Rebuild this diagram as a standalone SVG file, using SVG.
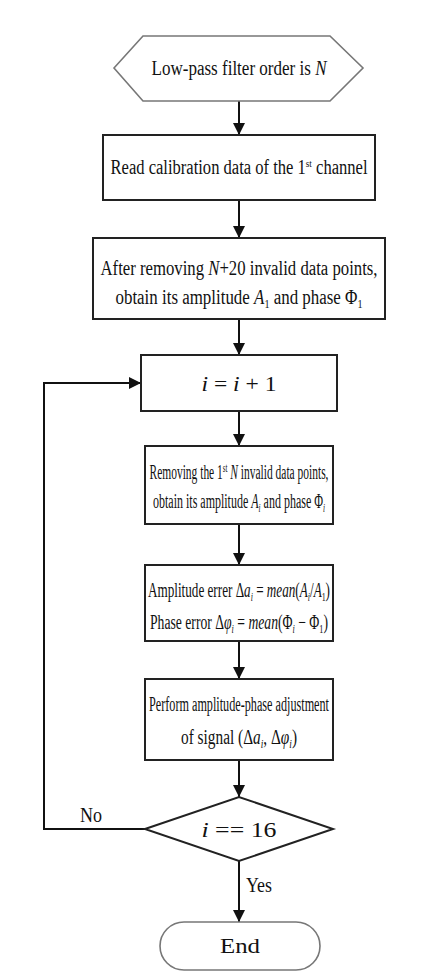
<svg xmlns="http://www.w3.org/2000/svg" width="440" height="980" viewBox="0 0 440 980">
<defs>
<style>
.t{font-family:"Liberation Serif","Times New Roman",serif;font-size:20px;fill:#111}
.m{font-family:"Liberation Serif","Times New Roman",serif;font-size:22px;fill:#111}
.i{font-style:italic}
.box{fill:#fff;stroke:#222;stroke-width:2}
.soft{fill:#fff;stroke:#777;stroke-width:1.6}
.c{stroke:#111;stroke-width:2;fill:none}
</style>
<marker id="a" viewBox="0 0 12 12" refX="12" refY="6" markerWidth="12" markerHeight="12" orient="auto" markerUnits="userSpaceOnUse"><path d="M0,0 L12,6 L0,12 z" fill="#111"/></marker>
</defs>
<rect width="440" height="980" fill="#fff"/>
<g id="connectors">
<line class="c" x1="239" y1="101" x2="239" y2="135" marker-end="url(#a)"/>
<line class="c" x1="239" y1="200" x2="239" y2="238" marker-end="url(#a)"/>
<line class="c" x1="239" y1="319" x2="239" y2="355" marker-end="url(#a)"/>
<line class="c" x1="239" y1="411" x2="239" y2="446" marker-end="url(#a)"/>
<line class="c" x1="239" y1="524" x2="239" y2="565" marker-end="url(#a)"/>
<line class="c" x1="239" y1="641" x2="239" y2="679" marker-end="url(#a)"/>
<line class="c" x1="239" y1="760" x2="239" y2="797" marker-end="url(#a)"/>
<line class="c" x1="239" y1="861" x2="239" y2="922" marker-end="url(#a)"/>
<polyline class="c" points="145,829 44,829 44,383 141,383" marker-end="url(#a)"/>
<text class="t" x="80" y="822" textLength="22" lengthAdjust="spacingAndGlyphs">No</text>
<text class="t" x="246" y="892" textLength="26" lengthAdjust="spacingAndGlyphs">Yes</text>
</g>
<g id="start">
<polygon class="soft" points="114,68 143,36 330,36 363,68 330,101 143,101"/>
<text class="t" x="239" y="75" text-anchor="middle" textLength="175" lengthAdjust="spacingAndGlyphs">Low-pass filter order is <tspan class="i">N</tspan></text>
</g>
<g id="read">
<rect class="box" x="103" y="135" width="272" height="65"/>
<text class="t" x="239" y="174" text-anchor="middle" textLength="257" lengthAdjust="spacingAndGlyphs">Read calibration data of the 1<tspan font-size="11" dy="-7">st</tspan><tspan dy="7"> channel</tspan></text>
</g>
<g id="remove1">
<rect class="box" x="93" y="238" width="292" height="81"/>
<text class="t" x="239" y="275" text-anchor="middle" textLength="277" lengthAdjust="spacingAndGlyphs">After removing <tspan class="i">N</tspan>+20 invalid data points,</text>
<text class="t" x="239" y="304" text-anchor="middle" textLength="247" lengthAdjust="spacingAndGlyphs">obtain its amplitude <tspan class="i">A</tspan><tspan font-size="12" dy="4">1</tspan><tspan dy="-4"> and phase Φ</tspan><tspan font-size="12" dy="4">1</tspan></text>
</g>
<g id="inc">
<rect class="box" x="141" y="355" width="196" height="56"/>
<text class="m" x="239" y="391" text-anchor="middle" textLength="75" lengthAdjust="spacingAndGlyphs"><tspan class="i">i</tspan> = <tspan class="i">i</tspan> + 1</text>
</g>
<g id="remove">
<rect class="box" x="145" y="446" width="188" height="78"/>
<text class="t" x="239" y="479" text-anchor="middle" textLength="179" lengthAdjust="spacingAndGlyphs">Removing the 1<tspan font-size="12" dy="-7">st</tspan><tspan dy="7"> </tspan><tspan class="i">N</tspan> invalid data points,</text>
<text class="t" x="239" y="508" text-anchor="middle" textLength="172" lengthAdjust="spacingAndGlyphs">obtain its amplitude <tspan class="i">A</tspan><tspan class="i" font-size="12" dy="4">i</tspan><tspan dy="-4"> and phase Φ</tspan><tspan class="i" font-size="12" dy="4">i</tspan></text>
</g>
<g id="error">
<rect class="box" x="145" y="565" width="188" height="76"/>
<text class="t" x="239" y="597" text-anchor="middle" textLength="182" lengthAdjust="spacingAndGlyphs">Amplitude errer Δ<tspan class="i">a</tspan><tspan class="i" font-size="12" dy="4">i</tspan><tspan dy="-4"> = </tspan><tspan class="i">mean</tspan>(<tspan class="i">A</tspan><tspan class="i" font-size="12" dy="4">i</tspan><tspan dy="-4">/</tspan><tspan class="i">A</tspan><tspan font-size="12" dy="4">1</tspan><tspan dy="-4">)</tspan></text>
<text class="t" x="239" y="629" text-anchor="middle" textLength="178" lengthAdjust="spacingAndGlyphs">Phase error Δ<tspan class="i">φ</tspan><tspan class="i" font-size="12" dy="4">i</tspan><tspan dy="-4"> = </tspan><tspan class="i">mean</tspan>(Φ<tspan class="i" font-size="12" dy="4">i</tspan><tspan dy="-4"> − Φ</tspan><tspan font-size="12" dy="4">1</tspan><tspan dy="-4">)</tspan></text>
</g>
<g id="adjust">
<rect class="box" x="145" y="679" width="188" height="81"/>
<text class="t" x="239" y="711" text-anchor="middle" textLength="180" lengthAdjust="spacingAndGlyphs">Perform amplitude-phase adjustment</text>
<text class="t" x="239" y="744" text-anchor="middle" textLength="116" lengthAdjust="spacingAndGlyphs">of signal (Δ<tspan class="i">a</tspan><tspan class="i" font-size="12" dy="4">i</tspan><tspan dy="-4">, Δ</tspan><tspan class="i">φ</tspan><tspan class="i" font-size="12" dy="4">i</tspan><tspan dy="-4">)</tspan></text>
</g>
<g id="decision">
<polygon class="box" points="145,829 239,797 333,829 239,861"/>
<text class="m" x="239" y="837" text-anchor="middle" textLength="75" lengthAdjust="spacingAndGlyphs"><tspan class="i">i</tspan> == 16</text>
</g>
<g id="end">
<rect class="soft" x="160" y="922" width="160" height="48" rx="24"/>
<text class="t" x="240" y="953" text-anchor="middle" textLength="40" lengthAdjust="spacingAndGlyphs">End</text>
</g>
</svg>
